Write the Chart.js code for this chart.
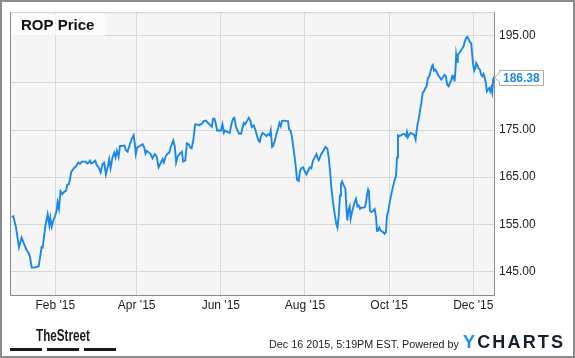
<!DOCTYPE html>
<html>
<head>
<meta charset="utf-8">
<script src="https://cdn.jsdelivr.net/npm/chart.js@4/dist/chart.umd.min.js"></script>
<style>
  html, body { margin: 0; padding: 0; background: #fff; }
  canvas { display: block; }
</style>
</head>
<body>
<canvas id="c" width="575" height="358"></canvas>
<script>
// ---- Data (x = day of 2015, Jan 1 = 0) ----
const seriesName = "ROP Price";
const days = [
  -0.6, 0.6, 2.5, 4.7, 6.6, 8.3, 10.3, 11.7, 12.7, 13.9, 15.1, 17.0, 19.0, 20.4, 21.1, 21.9, 22.8, 24.0, 25.5, 26.7,
  27.4, 28.4, 29.6, 30.8, 32.0, 32.7, 33.7, 34.4, 34.9, 36.1, 37.5, 38.8, 39.7, 40.9, 41.7, 42.6, 44.5, 46.0, 47.7, 48.9,
  50.3, 51.8, 53.2, 54.2, 55.2, 56.1, 57.1, 58.5, 60.0, 61.0, 62.4, 63.9, 65.3, 66.5, 67.7, 69.2, 70.1, 71.1, 72.5, 73.8,
  74.7, 75.7, 76.9, 77.9, 79.3, 81.2, 82.2, 83.4, 85.1, 86.5, 87.8, 88.7, 89.4, 90.4, 92.3, 94.3, 95.5, 96.4, 97.4, 98.9,
  100.1, 101.5, 103.0, 104.4, 105.9, 107.3, 108.8, 109.7, 110.9, 112.4, 113.6, 115.0, 116.5, 117.7, 118.6, 119.9, 121.3, 122.8, 123.7, 125.2,
  126.4, 127.6, 128.8, 129.8, 131.0, 132.4, 133.4, 135.3,
  135.8, 137.2, 138.7, 140.1, 141.8, 143.5, 144.5, 145.4, 146.4, 147.4, 148.3, 149.8, 151.2, 152.2, 153.2, 154.1, 155.6, 157.5, 158.7, 159.9,
  160.9, 161.9, 162.8, 164.3, 165.7, 166.7, 167.6, 168.6, 170.1, 171.3, 172.5, 173.4, 174.9, 176.3, 177.3, 178.3, 179.2, 180.2, 181.2, 182.6,
  184.1,
  185.3, 186.5, 187.2, 188.2, 188.9, 190.1, 191.3, 192.5, 193.5, 194.4, 195.4, 196.8, 198.5, 199.7, 200.5, 201.7, 202.6, 203.8, 205.1, 206.3,
  207.5, 208.4, 209.4, 210.6, 211.8, 213.0, 214.2, 215.4, 216.6, 217.8, 219.1, 220.3, 221.0, 222.0, 223.2, 224.4, 225.6, 226.8, 228.2, 229.2,
  230.2, 231.1, 232.3, 233.5, 234.7, 235.5, 236.4, 237.4, 238.1, 238.9, 239.8, 241.3, 242.0, 242.7, 243.4, 244.4,
  245.1, 246.1, 247.0, 248.0, 249.0, 250.0, 250.9, 251.9, 252.8, 254.0, 255.3, 256.2, 257.0, 257.7, 258.4, 259.1, 260.1, 261.3, 262.5, 263.5,
  264.2, 264.9, 265.9, 266.8, 268.3, 269.7, 270.7, 271.4, 272.4, 273.4, 274.6, 275.8, 277.0, 278.0, 278.7, 279.4, 280.4, 281.8, 283.3, 284.2,
  285.2, 285.9, 286.6, 287.6, 288.6, 289.8, 290.7, 291.5, 292.2, 292.9, 293.6, 294.4, 295.3, 296.3, 297.3, 298.2, 299.2, 300.2, 301.1,
  302.1, 303.0, 304.0, 304.7, 305.5, 306.4, 307.4, 308.4, 309.6, 310.8, 312.0, 313.2, 314.1, 315.1, 316.1, 317.0, 318.0, 318.7, 319.5, 320.0,
  320.4, 321.1, 321.6, 322.4, 322.8, 323.8, 324.8, 326.0, 326.9, 327.7, 328.6, 329.6, 330.6, 331.5, 332.5, 333.2, 333.9, 334.7, 335.4, 336.1,
  336.8, 337.8, 338.8, 339.7, 340.7, 341.4, 342.1, 343.1, 343.8, 344.6, 345.5, 346.2, 347.0, 347.7, 348.4, 349.0
];
const prices = [
  156.5, 156.7, 154.4, 150.1, 152.2, 150.9, 149.5, 148.9, 148.1, 145.8, 145.8, 145.9, 146.1, 148.8, 150.2, 150.1, 152.3, 154.8, 157.1, 154.8,
  156.4, 154.5, 155.8, 156.7, 157.9, 159.7, 158.3, 160.7, 162.0, 161.4, 161.9, 162.1, 163.4, 163.5, 164.6, 166.1, 166.9, 167.3, 168.1, 167.8,
  168.3, 168.3, 168.3, 167.9, 168.1, 168.5, 167.9, 168.1, 168.5, 167.6, 167.1, 166.0, 167.8, 168.1, 165.6, 167.4, 168.8, 166.9, 169.2, 170.2,
  169.2, 170.6, 169.3, 171.6, 171.6, 171.7, 170.7, 170.4, 172.0, 173.2, 173.9, 172.0, 169.9, 171.3, 171.6, 172.0, 171.3, 170.0, 170.6, 170.2,
  169.9, 169.0, 169.9, 169.5, 167.1, 167.9, 168.8, 168.1, 169.3, 170.0, 170.2, 171.6, 172.8, 171.4, 168.1, 169.5, 170.0, 170.4, 168.3, 168.5,
  172.2, 172.0, 171.3, 171.1, 172.7, 176.2, 176.2, 176.0,
  176.2, 176.3, 176.9, 177.0, 176.5, 176.0, 175.7, 177.4, 177.4, 176.3, 174.9, 174.9, 174.9, 176.2, 174.4, 174.9, 174.6, 174.4, 176.3, 177.4,
  177.6, 175.8, 175.1, 174.2, 174.2, 175.5, 176.5, 176.2, 177.0, 177.6, 176.9, 175.6, 176.0, 174.8, 173.7, 172.8, 172.5, 173.7, 174.4, 174.1,
  173.7,
  174.1, 173.9, 174.9, 171.4, 171.6, 172.7, 174.1, 175.3, 176.5, 175.8, 176.9, 177.0, 176.9, 176.9, 175.1, 174.8, 173.4, 170.9, 167.8, 164.4,
  164.2, 166.3, 166.9, 167.1, 166.3, 165.6, 166.3, 167.1, 166.9, 168.5, 169.2, 169.9, 169.2, 168.6, 169.5, 170.2, 170.7, 171.4, 171.1, 169.2,
  166.3, 162.8, 159.7, 157.2, 155.1, 154.3, 156.5, 161.1, 163.5, 164.1, 163.4, 162.5, 158.6, 155.8, 157.9, 158.8,
  156.2, 157.6, 158.6, 159.7, 160.4, 158.8, 159.0, 158.3, 158.6, 158.5, 158.6, 159.5, 161.4, 162.3, 161.6, 157.9, 157.6, 157.8, 158.2, 156.5,
  153.6, 153.7, 154.3, 153.7, 153.4, 153.0, 153.4, 156.7, 157.9, 159.7, 161.4, 163.0, 164.4, 165.3, 169.2, 173.9, 173.7, 173.9, 174.2, 174.1,
  173.7, 174.6, 173.5, 174.1, 174.4, 174.2, 174.1, 173.7, 173.0, 174.8, 176.2, 177.2, 179.0, 180.7, 182.9, 183.2, 183.9, 184.3, 186.0,
  186.4, 187.4, 188.5, 188.8, 187.6, 187.8, 187.4, 186.7, 186.2, 185.7, 186.2, 186.7, 186.4, 184.6, 184.3, 185.0, 185.5, 186.4, 186.0, 186.7,
  185.3, 187.8, 191.0, 189.5, 191.0, 191.3, 191.8, 192.3, 192.7, 193.6, 194.4, 194.8, 194.3, 193.7, 193.4, 191.0, 188.8, 187.6, 188.1, 189.2,
  188.8, 188.1, 187.8, 186.7, 186.4, 186.9, 186.4, 185.0, 183.2, 183.6, 183.9, 183.2, 184.0, 183.0, 185.7, 186.38
];
const xTickDays = [31, 90, 151, 212, 273, 334];
const xTickLabels = ["Feb '15", "Apr '15", "Jun '15", "Aug '15", "Oct '15", "Dec '15"];
const yTickValues = [145, 155, 165, 175, 185, 195];
const lastValueText = "186.38";
const footerText = "Dec 16 2015, 5:19PM EST. Powered by";
const brandLeft = "TheStreet";
const brandRight = "YCHARTS";

const points = days.map((d, i) => ({ x: d, y: prices[i] }));
const FONT = '"Liberation Sans", Arial, Helvetica, sans-serif';
const LINE = '#1b87e6';

const decor = {
  id: 'decor',
  beforeDraw(chart) {
    const { ctx, chartArea: a } = chart;
    ctx.save();
    ctx.fillStyle = '#ffffff';
    ctx.fillRect(0, 0, chart.width, chart.height);
    ctx.fillStyle = '#f5f5f5';
    ctx.fillRect(a.left, a.top, a.right - a.left, a.bottom - a.top);
    ctx.restore();
  },
  beforeDatasetsDraw(chart) {
    const { ctx, chartArea: a } = chart;
    ctx.save();
    ctx.fillStyle = 'rgba(255,255,255,0.6)';
    ctx.fillRect(a.left, a.top, 95, 24);
    ctx.fillStyle = '#111';
    ctx.font = 'bold 15px ' + FONT;
    ctx.textBaseline = 'middle';
    ctx.textAlign = 'left';
    ctx.fillText(seriesName, a.left + 11, a.top + 14);
    ctx.restore();
  },
  afterDraw(chart) {
    const { ctx, chartArea: a } = chart;
    const ys = chart.scales.y;
    ctx.save();
    ctx.lineWidth = 1;
    ctx.strokeStyle = '#cfcfcf';
    ctx.beginPath(); ctx.moveTo(a.left, a.top + 0.5); ctx.lineTo(a.right, a.top + 0.5); ctx.stroke();
    ctx.strokeStyle = '#8a8a8a';
    ctx.beginPath();
    ctx.moveTo(a.left + 0.5, a.top); ctx.lineTo(a.left + 0.5, a.bottom + 0.5);
    ctx.lineTo(a.right + 0.5, a.bottom + 0.5); ctx.lineTo(a.right + 0.5, a.top);
    ctx.stroke();

    // last value flag
    const lastV = prices[prices.length - 1];
    const py = ys.getPixelForValue(lastV) + 1;
    const bx = a.right + 5, bw = 44, bh = 15;
    ctx.beginPath();
    ctx.moveTo(a.right + 0.5, py);
    ctx.lineTo(bx + 0.5, py - 4.5);
    ctx.lineTo(bx + 0.5, py - bh / 2 + 0.5);
    ctx.lineTo(bx + bw + 0.5, py - bh / 2 + 0.5);
    ctx.lineTo(bx + bw + 0.5, py + bh / 2 + 0.5);
    ctx.lineTo(bx + 0.5, py + bh / 2 + 0.5);
    ctx.lineTo(bx + 0.5, py + 4.5);
    ctx.closePath();
    ctx.fillStyle = '#ffffff';
    ctx.fill();
    ctx.strokeStyle = '#a8a8a8';
    ctx.stroke();
    ctx.fillStyle = LINE;
    ctx.font = 'bold 12px ' + FONT;
    ctx.textBaseline = 'middle';
    ctx.textAlign = 'left';
    ctx.fillText(lastValueText, bx + 4, py + 1);

    // footer: TheStreet logo
    ctx.fillStyle = '#1a1a1a';
    ctx.font = 'bold 16px ' + FONT;
    ctx.textBaseline = 'alphabetic';
    ctx.fillText(brandLeft, 36, 341, 54);
    ctx.fillRect(10, 348, 32, 3);
    ctx.fillRect(47, 348, 32, 3);
    ctx.fillRect(84, 348, 32, 3);

    // footer text
    ctx.fillStyle = '#222';
    ctx.font = '11px ' + FONT;
    ctx.textBaseline = 'middle';
    ctx.fillText(footerText, 269, 344.5, 190);

    // YCHARTS
    ctx.font = 'bold 18px ' + FONT;
    ctx.textBaseline = 'alphabetic';
    const letters = brandRight.split('');
    const widths = letters.map(l => ctx.measureText(l).width);
    const total = widths.reduce((s, w) => s + w, 0);
    const gap = (100 - total) / (letters.length - 1);
    let x = 463;
    letters.forEach((l, i) => {
      ctx.fillStyle = i === 0 ? '#1e90e8' : '#14202e';
      ctx.fillText(l, x, 348);
      x += widths[i] + gap;
    });

    ctx.strokeStyle = '#8c8c8c';
    ctx.lineWidth = 2;
    ctx.strokeRect(1, 1, chart.width - 2, chart.height - 2);
    ctx.restore();
  }
};

new Chart(document.getElementById('c'), {
  type: 'line',
  data: {
    datasets: [{
      label: seriesName,
      data: points,
      borderColor: LINE,
      borderWidth: 1.9,
      pointRadius: 0,
      tension: 0,
      fill: false
    }]
  },
  options: {
    responsive: false,
    animation: false,
    devicePixelRatio: 1,
    layout: { padding: { left: 10, top: 10, right: 0, bottom: 0 } },
    plugins: { legend: { display: false }, tooltip: { enabled: false }, title: { display: false } },
    scales: {
      x: {
        type: 'linear',
        min: -1.8,
        max: 349,
        afterBuildTicks: (axis) => { axis.ticks = xTickDays.map(v => ({ value: v })); },
        afterFit: (axis) => { axis.height = 63; },
        ticks: {
          autoSkip: false,
          maxRotation: 0,
          padding: 3,
          color: '#222',
          font: { family: FONT, size: 12 },
          callback: (v) => { const i = xTickDays.indexOf(v); return i >= 0 ? xTickLabels[i] : ''; }
        },
        grid: { color: '#d9d9d9', lineWidth: 1, drawTicks: false },
        border: { display: false }
      },
      y: {
        position: 'right',
        min: 140,
        max: 200,
        afterBuildTicks: (axis) => { axis.ticks = yTickValues.map(v => ({ value: v })); },
        afterFit: (axis) => { axis.width = 81; },
        ticks: {
          padding: 5,
          color: '#222',
          font: { family: FONT, size: 12 },
          callback: (v) => Number(v).toFixed(2)
        },
        grid: { color: '#d9d9d9', lineWidth: 1, drawTicks: false },
        border: { display: false }
      }
    }
  },
  plugins: [decor]
});
</script>
</body>
</html>
